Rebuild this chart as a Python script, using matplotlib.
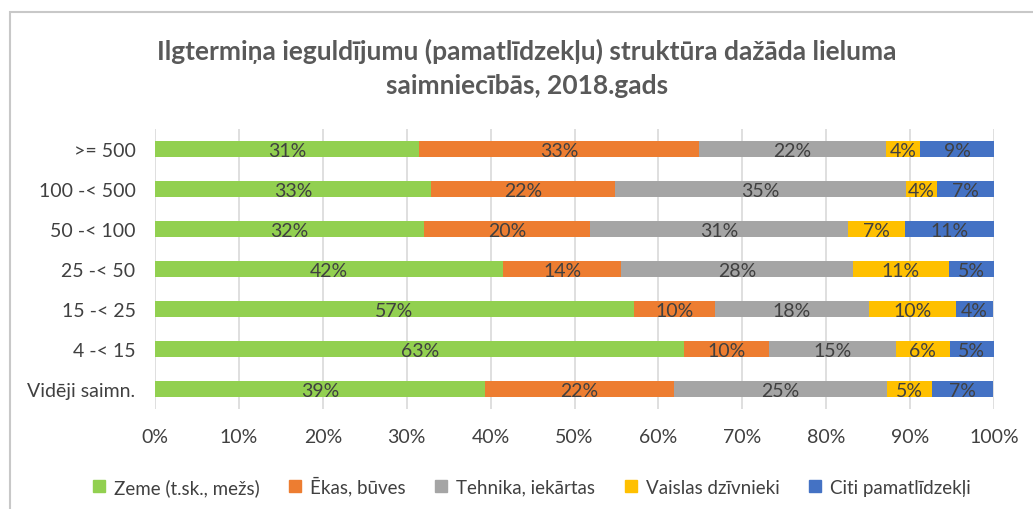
import matplotlib
matplotlib.use("Agg")
import matplotlib.pyplot as plt
from matplotlib.lines import Line2D
import numpy as np

plt.rcParams['font.family'] = ['Lato', 'DejaVu Sans']

categories = [">= 500", "100 -< 500", "50 -< 100", "25 -< 50", "15 -< 25", "4 -< 15", "Vidēji saimn."]
series_names = ["Zeme (t.sk., mežs)", "Ēkas, būves", "Tehnika, iekārtas", "Vaislas dzīvnieki", "Citi pamatlīdzekļi"]
zeme = [31.5, 32.9, 32.1, 41.5, 57.1, 63.1, 39.3]
ekas = [33.3, 21.9, 19.7, 14.1, 9.6, 10.1, 22.5]
tehnika = [22.3, 34.7, 30.8, 27.6, 18.4, 15.1, 25.4]
vaislas = [4.1, 3.7, 6.8, 11.4, 10.4, 6.4, 5.4]
citi = [8.8, 6.8, 10.6, 5.4, 4.4, 5.3, 7.3]
labels = [
    ["31%", "33%", "32%", "42%", "57%", "63%", "39%"],
    ["33%", "22%", "20%", "14%", "10%", "10%", "22%"],
    ["22%", "35%", "31%", "28%", "18%", "15%", "25%"],
    ["4%", "4%", "7%", "11%", "10%", "6%", "5%"],
    ["9%", "7%", "11%", "5%", "4%", "5%", "7%"],
]
colors = ["#92D050", "#ED7D31", "#A5A5A5", "#FFC000", "#4472C4"]
xticks = [0, 10, 20, 30, 40, 50, 60, 70, 80, 90, 100]
title = "Ilgtermiņa ieguldījumu (pamatlīdzekļu) struktūra dažāda lieluma\nsaimniecībās, 2018.gads"

text_color = "#404040"

fig = plt.figure(figsize=(10.33, 5.10), dpi=100)
# chart border
fig.add_artist(plt.Rectangle((10 / 1033, -0.05), 1.1, 1 - 13 / 510 + 0.05,
                             transform=fig.transFigure, fill=False,
                             edgecolor="#C8C8C8", linewidth=1.5))

ax = fig.add_axes([155 / 1033, 1 - 410 / 510, (994 - 155) / 1033, 280 / 510])

y = np.arange(len(categories))
data = [zeme, ekas, tehnika, vaislas, citi]
left = np.zeros(len(categories))
for vals, col, name, labs in zip(data, colors, series_names, labels):
    vals = np.array(vals)
    ax.barh(y, vals, left=left, height=0.42, color=col, label=name, zorder=3)
    for yi, (l, v, t) in enumerate(zip(left, vals, labs)):
        ax.text(l + v / 2, yi + 0.03, t, ha="center", va="center", fontsize=14,
                color=text_color, zorder=4)
    left += vals

ax.set_xlim(0, 100)
ax.set_ylim(len(categories) - 0.5, -0.5)
ax.set_yticks(y)
ax.set_yticklabels(categories, fontsize=14, color=text_color)
ax.set_xticks(xticks)
ax.set_xticklabels([f"{t}%" for t in xticks], fontsize=14, color=text_color)
ax.tick_params(axis="y", length=0, pad=14)
ax.tick_params(axis="x", length=0, pad=14)
ax.xaxis.grid(True, color="#D9D9D9", linewidth=1.2, zorder=0)
ax.set_axisbelow(True)
for s in ax.spines.values():
    s.set_visible(False)

fig.text(527 / 1033, 1 - 68 / 510, title, ha="center", va="center", fontsize=19,
         fontweight="bold", color="#595959", linespacing=1.5)

handles = [Line2D([0], [0], marker="s", linestyle="", markersize=8,
                  markerfacecolor=c, markeredgecolor=c) for c in colors]
fig.legend(handles, series_names, loc="center", bbox_to_anchor=(530 / 1033, 1 - 487 / 510),
           ncol=5, frameon=False, fontsize=13.5, handletextpad=0.3, columnspacing=1.4,
           labelcolor=text_color, handlelength=1.0)

fig.savefig("out.png", dpi=100)
